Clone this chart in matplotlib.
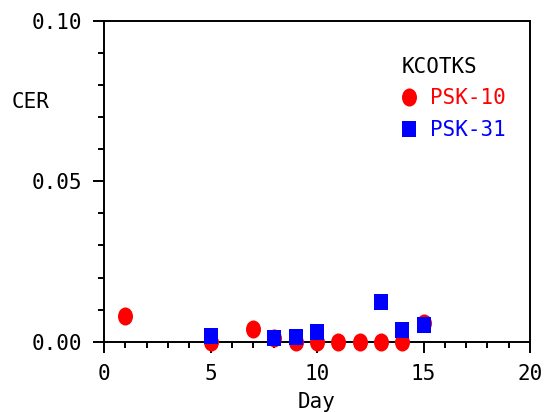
import matplotlib
matplotlib.use('Agg')
import matplotlib.pyplot as plt
from matplotlib.path import Path
from matplotlib.ticker import MultipleLocator

# Datos
days_psk10 = [1, 5, 7, 8, 9, 10, 11, 12, 13, 14, 15]
cer_psk10 = [0.0081, 0.0, 0.004, 0.0013, 0.0, 0.0, 0.0, 0.0, 0.0, 0.0, 0.0058]

days_psk31 = [5, 8, 9, 10, 13, 14, 15]
cer_psk31 = [0.0018, 0.0013, 0.0014, 0.003, 0.0123, 0.0036, 0.0053]

plt.rcParams['font.family'] = 'DejaVu Sans Mono'

# Marcadores un poco más altos que anchos, como en el original
circ = Path.unit_circle()
ellipse = Path(circ.vertices * [0.83, 1.0], circ.codes)
rect = Path([(-0.875, -1), (0.875, -1), (0.875, 1), (-0.875, 1), (-0.875, -1)], closed=True)

fig = plt.figure(figsize=(5.46, 4.12), dpi=100)
ax = fig.add_axes([104 / 546, 1 - 341.7 / 412, 426 / 546, 320.7 / 412])

ax.plot(days_psk10, cer_psk10, linestyle='none', marker=ellipse, color='red', markersize=13,
        markeredgewidth=0, clip_on=False, zorder=5, label='PSK-10')
ax.plot(days_psk31, cer_psk31, linestyle='none', marker=rect, color='blue', markersize=11.5,
        markeredgewidth=0, clip_on=False, zorder=6, label='PSK-31')

ax.set_xlim(0, 20)
ax.set_ylim(0, 0.10)
ax.xaxis.set_major_locator(MultipleLocator(5))
ax.xaxis.set_minor_locator(MultipleLocator(1))
ax.yaxis.set_major_locator(MultipleLocator(0.05))
ax.yaxis.set_minor_locator(MultipleLocator(0.01))
ax.yaxis.set_major_formatter(lambda v, p: f'{v:.2f}')

ax.tick_params(which='both', direction='out', top=False, right=False, width=1.4)
ax.tick_params(which='major', length=8, labelsize=15)
ax.tick_params(axis='y', which='major', pad=8)
ax.tick_params(axis='x', which='major', pad=8)
ax.tick_params(which='minor', length=4.5)
for s in ax.spines.values():
    s.set_linewidth(1.4)

ax.set_xlabel('Day', fontsize=15, labelpad=6)
fig.text(12 / 546, 1 - 102.5 / 412, 'CER', fontsize=15, va='center', ha='left')

leg = ax.legend(loc='upper left', bbox_to_anchor=(402 / 546, 1 - 57 / 412),
                bbox_transform=fig.transFigure, frameon=False, borderpad=0,
                borderaxespad=0, title='KCOTKS', alignment='left', fontsize=15,
                title_fontsize=15, handlelength=0.65, handletextpad=0.7,
                labelspacing=0.55, labelcolor=['red', 'blue'])

fig.savefig('out.png', dpi=100)
